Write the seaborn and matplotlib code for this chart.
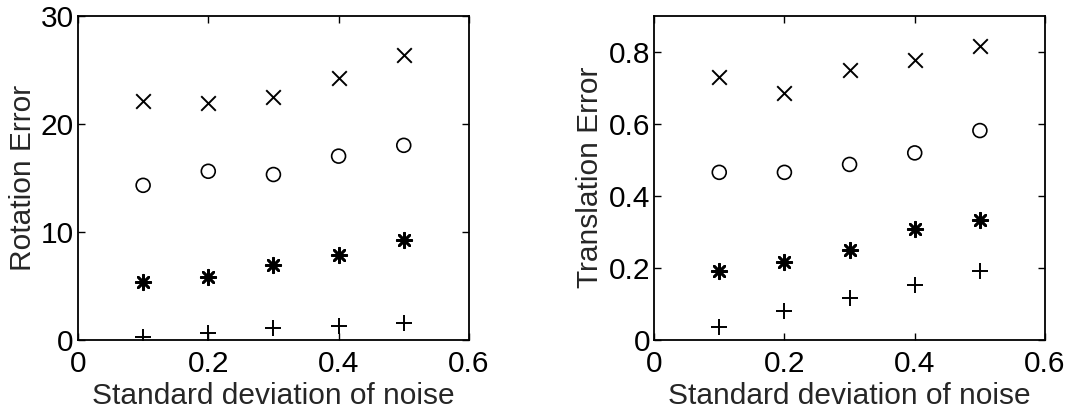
import seaborn as sns
import pandas as pd
import matplotlib.pyplot as plt

noise = [0.1, 0.2, 0.3, 0.4, 0.5]

# rotation error, one list per marker series
rot_x = [22.1, 21.9, 22.5, 24.2, 26.4]
rot_o = [14.3, 15.6, 15.3, 17.0, 18.0]
rot_star = [5.4, 5.8, 6.9, 7.9, 9.2]
rot_plus = [0.25, 0.6, 1.1, 1.3, 1.6]

# translation error
tr_x = [0.730, 0.684, 0.749, 0.777, 0.817]
tr_o = [0.465, 0.465, 0.487, 0.519, 0.581]
tr_star = [0.190, 0.215, 0.249, 0.307, 0.333]
tr_plus = [0.037, 0.079, 0.116, 0.153, 0.190]

sns.set_style("ticks")
plt.rcParams['font.family'] = ['Liberation Sans', 'DejaVu Sans']

fig = plt.figure(figsize=(10.92, 4.11), dpi=100)
ax1 = fig.add_axes([0.0714, 0.173, 0.358, 0.789])
ax2 = fig.add_axes([0.599, 0.173, 0.358, 0.789])

markers = {
    'x': dict(marker='x', s=110, linewidths=1.4, color='black'),
    'o': dict(marker='o', s=100, linewidths=1.2, facecolors='none', edgecolors='black'),
    'star': dict(marker=(8, 2, 0), s=110, linewidths=1.9, color='black'),
    'plus': dict(marker='+', s=120, linewidths=1.4, color='black'),
}


def draw(ax, series, ylim, yticks, ylabel):
    for key, vals in series.items():
        df = pd.DataFrame({"noise": noise, "err": vals})
        sns.scatterplot(x="noise", y="err", data=df, ax=ax, **markers[key])
    ax.set_xlim(0, 0.6)
    ax.set_ylim(*ylim)
    ax.set_xticks([0, 0.2, 0.4, 0.6])
    ax.set_xticklabels(["0", "0.2", "0.4", "0.6"])
    ax.set_yticks(yticks)
    ax.set_yticklabels([("%g" % t) for t in yticks])
    ax.tick_params(direction='in', length=5, width=1, top=True, right=True,
                   labelsize=21.5, colors='black')
    ax.tick_params(axis='x', pad=7)
    ax.tick_params(axis='y', pad=3)
    for sp in ax.spines.values():
        sp.set_linewidth(1.3)
        sp.set_color('black')
    ax.set_xlabel("Standard deviation of noise", fontsize=21.5, labelpad=3)
    ax.set_ylabel(ylabel, fontsize=21.5, labelpad=3)


draw(ax1, {'x': rot_x, 'o': rot_o, 'star': rot_star, 'plus': rot_plus},
     (0, 30), [0, 10, 20, 30], "Rotation Error")
draw(ax2, {'x': tr_x, 'o': tr_o, 'star': tr_star, 'plus': tr_plus},
     (0, 0.9), [0, 0.2, 0.4, 0.6, 0.8], "Translation Error")

fig.savefig("out.png", dpi=100)
